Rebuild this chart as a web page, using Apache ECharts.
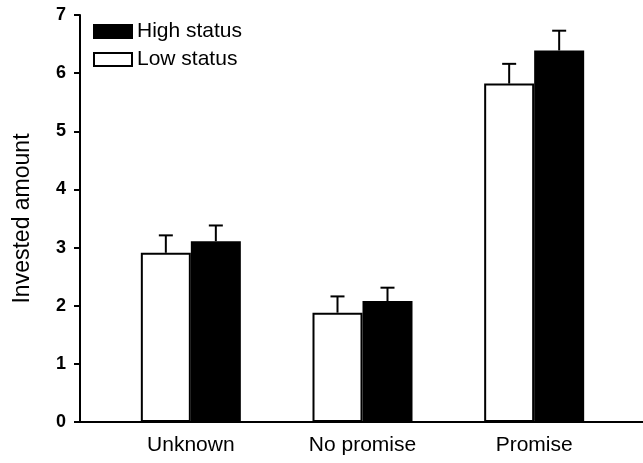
<!DOCTYPE html>
<html>
<head>
<meta charset="utf-8">
<script src="https://cdn.jsdelivr.net/npm/echarts@6/dist/echarts.min.js"></script>
<style>
  html, body { margin: 0; padding: 0; background: #fff; }
  #chart { width: 643px; height: 463px; }
</style>
</head>
<body>
<div id="chart"></div>
<script>
const categories = ['Unknown', 'No promise', 'Promise']
const lowStatus = [2.91, 1.88, 5.82]
const lowStatusErr = [0.30, 0.28, 0.34]
const highStatus = [3.11, 2.08, 6.39]
const highStatusErr = [0.27, 0.23, 0.34]
const yTicks = [0, 1, 2, 3, 4, 5, 6, 7]

const font = 'Liberation Sans, Arial, sans-serif'
const barWidth = 50

function errorSeries(name, values, errs, offset) {
  return {
    name: name + ' err',
    type: 'custom',
    xAxisIndex: 1,
    yAxisIndex: 1,
    z: 1,
    data: values.map((v, i) => [i, v, v + errs[i]]),
    renderItem(params, api) {
      const base = api.coord([api.value(0), api.value(1)])
      const top = api.coord([api.value(0), api.value(2)])
      const x = base[0] + offset
      const style = { stroke: '#000', lineWidth: 2 }
      return {
        type: 'group',
        children: [
          { type: 'line', shape: { x1: x, y1: base[1], x2: x, y2: top[1] }, style },
          { type: 'line', shape: { x1: x - 7, y1: top[1], x2: x + 7, y2: top[1] }, style },
        ],
      }
    },
  }
}

const chart = echarts.init(document.getElementById('chart'))
chart.setOption({
  animation: false,
  textStyle: { fontFamily: font, color: '#000' },
  legend: {
    left: 88,
    top: 16,
    orient: 'vertical',
    icon: 'rect',
    itemWidth: 38,
    itemHeight: 13,
    itemGap: 7,
    itemTextGap: 9,
    data: ['High status', 'Low status'],
    textStyle: { fontSize: 21, lineHeight: 21, color: '#000', fontFamily: font },
  },
  grid: [
    { left: 80, right: 0, top: 15, bottom: 41 },
    { left: 105, right: 23, top: 15, bottom: 41 },
  ],
  xAxis: [{
    gridIndex: 0,
    type: 'value',
    min: 0,
    max: 1,
    axisLine: { show: true, onZero: false, lineStyle: { color: '#000', width: 2 } },
    axisTick: { show: false },
    axisLabel: { show: false },
    splitLine: { show: false },
  }, {
    gridIndex: 1,
    type: 'category',
    data: categories,
    axisLine: { show: false },
    axisTick: { show: false },
    axisLabel: { fontSize: 21, color: '#000', margin: 13, fontFamily: font },
  }],
  yAxis: [{
    gridIndex: 0,
    type: 'value',
    min: 0,
    max: 7,
    interval: 1,
    data: yTicks,
    name: 'Invested amount',
    nameLocation: 'middle',
    nameGap: 46,
    nameTextStyle: { fontSize: 23, color: '#000', fontFamily: font },
    axisLine: { show: true, lineStyle: { color: '#000', width: 2 } },
    axisTick: { show: true, length: 6, lineStyle: { color: '#000', width: 2 } },
    axisLabel: { fontSize: 18, fontWeight: 'bold', color: '#000', margin: 14, fontFamily: font },
    splitLine: { show: false },
  }, {
    gridIndex: 1,
    type: 'value',
    min: 0,
    max: 7,
    interval: 1,
    show: false,
  }],
  series: [
    errorSeries('Low status', lowStatus, lowStatusErr, -barWidth / 2),
    errorSeries('High status', highStatus, highStatusErr, barWidth / 2),
    {
      name: 'Low status',
      type: 'bar',
      xAxisIndex: 1,
      yAxisIndex: 1,
      z: 2,
      barWidth,
      barGap: '0%',
      data: lowStatus,
      itemStyle: { color: '#fff', borderColor: '#000', borderWidth: 2 },
    },
    {
      name: 'High status',
      type: 'bar',
      xAxisIndex: 1,
      yAxisIndex: 1,
      z: 2,
      barWidth,
      barGap: '0%',
      data: highStatus,
      itemStyle: { color: '#000', borderColor: '#000', borderWidth: 2 },
    },
  ],
})
</script>
</body>
</html>
